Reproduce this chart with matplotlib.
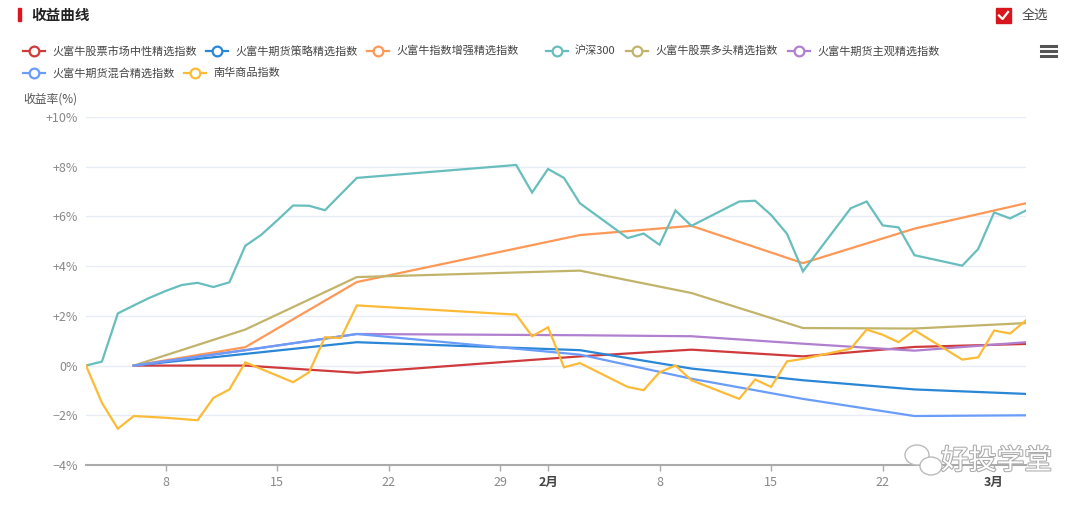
import matplotlib.pyplot as plt
from matplotlib.lines import Line2D
from matplotlib.patches import Rectangle, Ellipse
import matplotlib.patheffects as pe

plt.rcParams['font.family'] = ['Noto Sans CJK SC', 'DejaVu Sans']

# x values are day numbers counted from Jan 1 (Jan 1 = 1, Feb 1 = 32, Mar 1 = 60)
WEEK_DAYS = [6, 13, 20, 34, 41, 48, 55, 62]
NEUTRAL = [0, 0.0, -0.29, 0.37, 0.64, 0.37, 0.75, 0.87]
FUT_STRAT = [0, 0.47, 0.94, 0.62, -0.12, -0.59, -0.96, -1.14]
IDX_ENH = [0, 0.74, 3.36, 5.25, 5.62, 4.12, 5.51, 6.53]
LONG_STOCK = [0, 1.45, 3.56, 3.82, 2.92, 1.51, 1.49, 1.71]
FUT_SUBJ = [0, 0.62, 1.27, 1.22, 1.18, 0.88, 0.6, 0.94]
FUT_MIX = [0, 0.62, 1.27, 0.44, -0.53, -1.34, -2.03, -2.0]

HS300_DAYS = [3, 4, 5, 6, 7, 8, 9, 10, 11, 12, 13, 14, 15, 16, 17, 18,
              20, 30, 31, 32, 33, 34, 37, 38, 39, 40, 41, 44, 45, 46, 47, 48,
              51, 52, 53, 54, 55, 58, 59, 60, 61, 62]
HS300 = [0, 0.16, 2.1, 2.42, 2.73, 3.0, 3.24, 3.33, 3.16, 3.35, 4.82, 5.26, 5.84, 6.44, 6.43, 6.25,
         7.55, 8.07, 6.96, 7.91, 7.55, 6.53, 5.13, 5.31, 4.86, 6.24, 5.62, 6.6, 6.63, 6.06, 5.3, 3.79,
         6.33, 6.6, 5.64, 5.56, 4.44, 4.02, 4.69, 6.16, 5.92, 6.24]

NANHUA_DAYS = [3, 4, 5, 6, 8, 10, 11, 12, 13, 16, 17, 18, 19, 20, 30, 31, 32, 33, 34,
               37, 38, 39, 40, 41, 44, 45, 46, 47, 48, 51, 52, 53, 54, 55, 58, 59, 60, 61, 62]
NANHUA = [0, -1.5, -2.54, -2.03, -2.1, -2.2, -1.3, -0.96, 0.13, -0.67, -0.27, 1.14, 1.11, 2.42,
          2.05, 1.18, 1.54, -0.07, 0.1, -0.86, -0.99, -0.27, 0.0, -0.59, -1.34, -0.56, -0.86, 0.17,
          0.27, 0.68, 1.45, 1.24, 0.94, 1.42, 0.24, 0.33, 1.41, 1.29, 1.82]

NAMES = ["火富牛股票市场中性精选指数", "火富牛期货策略精选指数", "火富牛指数增强精选指数", "沪深300",
         "火富牛股票多头精选指数", "火富牛期货主观精选指数", "火富牛期货混合精选指数", "南华商品指数"]
COLORS = ["#cf3b3c", "#2a86d6", "#fd9856", "#68bdbd", "#c1b46a", "#b07fd0", "#6a9cfa", "#fbbb36"]

XTICKS = [8, 15, 22, 29, 32, 39, 46, 53, 60]
XTICK_LABELS = ["8", "15", "22", "29", "2月", "8", "15", "22", "3月"]
YTICKS = [-4, -2, 0, 2, 4, 6, 8, 10]
YTICK_LABELS = ["−4%", "−2%", "0%", "+2%", "+4%", "+6%", "+8%", "+10%"]

W, H = 1080, 509
fig = plt.figure(figsize=(W / 100, H / 100), dpi=100)
ax = fig.add_axes([86 / W, 1 - 465 / H, 940 / W, 348 / H])

series = [(WEEK_DAYS, NEUTRAL), (WEEK_DAYS, FUT_STRAT), (WEEK_DAYS, IDX_ENH), (HS300_DAYS, HS300),
          (WEEK_DAYS, LONG_STOCK), (WEEK_DAYS, FUT_SUBJ), (WEEK_DAYS, FUT_MIX),
          (NANHUA_DAYS, NANHUA)]
for (xs, ys), col, name in zip(series, COLORS, NAMES):
    ax.plot(xs, ys, color=col, lw=1.6, label=name, solid_joinstyle="miter", zorder=3)

ax.set_xlim(3, 62)
ax.set_ylim(-4, 10)
ax.set_yticks(YTICKS)
ax.set_yticklabels(YTICK_LABELS)
ax.set_xticks(XTICKS)
ax.set_xticklabels(XTICK_LABELS)
for lab in ax.get_xticklabels():
    if "月" in lab.get_text():
        lab.set_fontweight("bold")
        lab.set_color("#444444")
    else:
        lab.set_color("#888888")
ax.tick_params(axis="y", length=0, labelsize=9, labelcolor="#888888", pad=6)
ax.tick_params(axis="x", length=4, width=1, color="#aaaaaa", labelsize=9, pad=4)
ax.grid(axis="y", color="#e8ecf6", lw=1)
for s in ["top", "right", "left"]:
    ax.spines[s].set_visible(False)
ax.spines["bottom"].set_color("#aaaaaa")
ax.spines["bottom"].set_linewidth(1.5)


def px(x, y):
    return x / W, 1 - y / H


# title bar
fig.patches.append(Rectangle(px(18, 21), 3 / W, 13 / H, transform=fig.transFigure,
                             color="#e0141e", zorder=5))
fig.text(*px(31, 15), "收益曲线", fontsize=10.5, fontweight="bold", color="#222222", va="center")

# checkbox
fig.patches.append(Rectangle(px(996, 23), 15 / W, 15 / H, transform=fig.transFigure,
                             color="#d8161e", zorder=5))
fig.lines.append(Line2D([999 / W, 1002.5 / W, 1008 / W], [1 - 15.5 / H, 1 - 19 / H, 1 - 12 / H],
                        transform=fig.transFigure, color="white", lw=1.6, zorder=6))
fig.text(*px(1022, 15), "全选", fontsize=9.5, color="#444444", va="center")

# hamburger menu
for yy in [45.5, 50.5, 55.5]:
    fig.lines.append(Line2D([1041 / W, 1056 / W], [1 - yy / H] * 2, transform=fig.transFigure,
                            color="#555555", lw=2.2))

# legend
LEG_POS = [(23, 51), (206, 51), (367, 51), (546, 51), (626, 51), (788, 51), (23, 73), (184, 73)]
for (lx, ly), col, name in zip(LEG_POS, COLORS, NAMES):
    fig.lines.append(Line2D([lx / W, (lx + 22) / W], [1 - ly / H] * 2, transform=fig.transFigure,
                            color=col, lw=1.6, zorder=5))
    fig.lines.append(Line2D([(lx + 11) / W], [1 - ly / H], transform=fig.transFigure,
                            color=col, marker="o", markersize=7, markerfacecolor="white",
                            markeredgewidth=1.6, lw=0, zorder=6))
    fig.text(*px(lx + 29, ly), name, fontsize=8, color="#444444", va="center")

fig.text(*px(23, 99), "收益率(%)", fontsize=8.5, color="#555555", va="center")

# watermark
for cx, cy, ww, hh in [(917, 455, 24, 20), (931, 466, 22, 18)]:
    fig.patches.append(Ellipse(px(cx, cy), ww / W, hh / H, transform=fig.transFigure,
                               facecolor="white", edgecolor="#bbbbbb", lw=1.0, zorder=7))
fig.text(*px(941, 461), "好投学堂", fontsize=20, color="white", va="center", zorder=8,
         path_effects=[pe.withStroke(linewidth=1.5, foreground="#aaaaaa")])

fig.savefig("out.png", dpi=100)
